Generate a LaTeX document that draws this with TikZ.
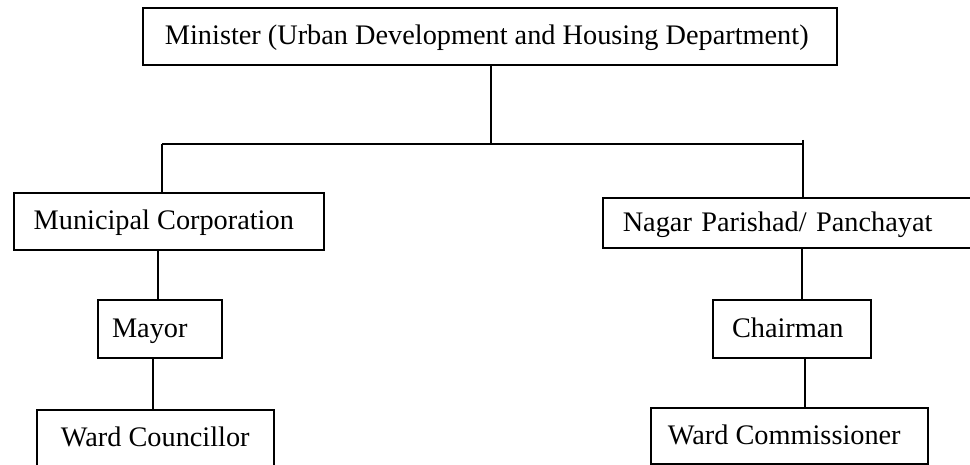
\documentclass[tikz,border=0pt]{standalone}
\usepackage{fontspec}
\setmainfont{Liberation Serif}
\newcommand{\txshift}[1]{\hspace*{#1}}
\begin{document}
\begin{tikzpicture}[x=1pt,y=1pt,
  box/.style={draw=black, line width=1.6pt, rectangle, anchor=north west,
    inner sep=0pt, text height=19.6pt, text depth=2.8pt,
    font=\fontsize{28.3}{32}\selectfont},
  conn/.style={draw=black, line width=1.6pt}]
\clip (0,0) rectangle (970,465);
\fill[white] (0,0) rectangle (970,465);
% boxes
\node[box, minimum width=694, minimum height=57] (min) at (142,458) {\txshift{-6pt}Minister (Urban Development and Housing Department)};
\node[box, minimum width=310, minimum height=57] (mc) at (13,273) {\txshift{-10pt}Municipal Corporation};
\node[box, minimum width=124, minimum height=58] (my) at (97,166) {\txshift{-20pt}Mayor};
\node[box, minimum width=237, minimum height=57] (wc) at (36,56) {Ward Councillor};
\node[box, text width=358pt, inner xsep=20pt, minimum height=50, align=left] (np) at (602,268) {Nagar Parishad/ Panchayat};
\node[box, minimum width=158, minimum height=58] (ch) at (712,166) {\txshift{-8pt}Chairman};
\node[box, minimum width=277, minimum height=56] (wcm) at (650,58) {\txshift{-10pt}Ward Commissioner};
% junction coordinates
\coordinate (jm) at (491,321);
\coordinate (jl) at (162,321);
\coordinate (jr) at (803,321);
\coordinate (jrt) at (803,325);
\coordinate (a1) at (158,0);
\coordinate (a2) at (153,0);
\coordinate (b1) at (802,0);
\coordinate (b2) at (805,0);
% connectors
\draw[conn] (jm |- min.south) -- (jm);
\draw[conn] (jl) -- (jr);
\draw[conn] (jl) -- (jl |- mc.north);
\draw[conn] (jrt) -- (jrt |- np.north);
\draw[conn] (a1 |- mc.south) -- (a1 |- my.north);
\draw[conn] (a2 |- my.south) -- (a2 |- wc.north);
\draw[conn] (b1 |- np.south) -- (b1 |- ch.north);
\draw[conn] (b2 |- ch.south) -- (b2 |- wcm.north);
\end{tikzpicture}
\end{document}
